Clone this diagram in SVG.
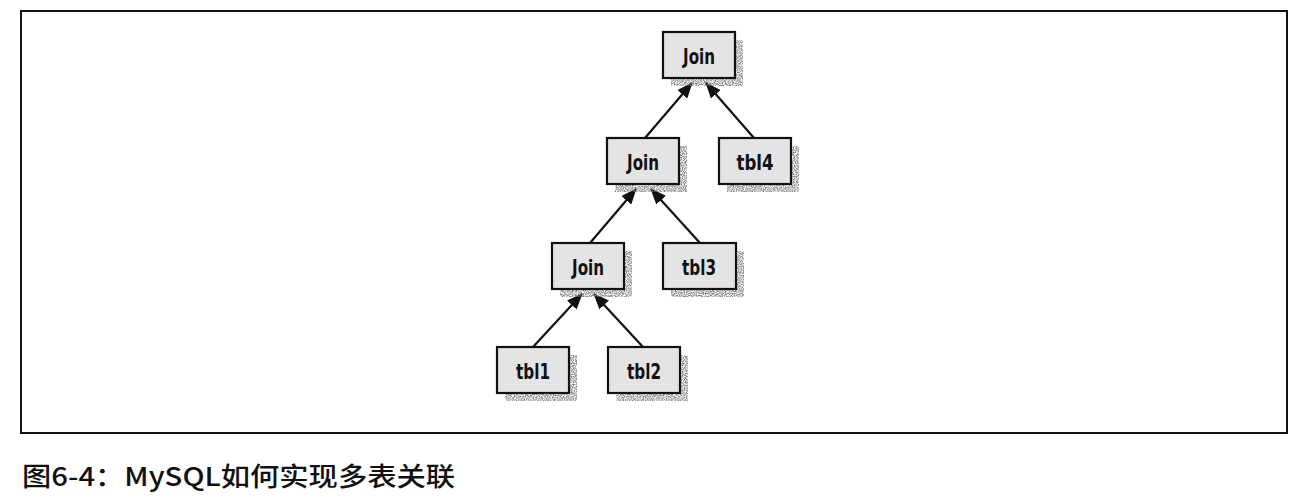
<svg xmlns="http://www.w3.org/2000/svg" width="1304" height="504" viewBox="0 0 1304 504">
  <style>
    .box { fill: #e4e4e4; stroke: #111; stroke-width: 2.2; }
    .shadow { fill: #7a7a7a; filter: url(#grain); }
    .lbl { font-family: "DejaVu Sans", sans-serif; font-weight: bold; font-size: 22px; fill: #111; text-anchor: middle; }
    .edge { stroke: #111; stroke-width: 2.2; fill: none; marker-end: url(#arrow); }
    .caption { font-family: "Noto Sans CJK SC", "Noto Sans", sans-serif; font-weight: 500; font-size: 26px; fill: #111; }
  </style>
  <defs>
    <filter id="grain" x="-5%" y="-5%" width="110%" height="110%">
      <feTurbulence type="fractalNoise" baseFrequency="0.9" numOctaves="1" seed="3" result="noise"/>
      <feColorMatrix in="noise" type="matrix" values="0 0 0 0 0  0 0 0 0 0  0 0 0 0 0  0 0 0 -2.6 1.75" result="mask"/>
      <feComposite in="SourceGraphic" in2="mask" operator="in"/>
    </filter>
    <marker id="arrow" markerUnits="userSpaceOnUse" markerWidth="16" markerHeight="13" refX="15" refY="6.5" orient="auto">
      <path d="M0,0 L16,6.5 L0,13 Z" fill="#111"/>
    </marker>
  </defs>
  <rect x="0" y="0" width="1304" height="504" fill="#fff"/>
  <rect x="21" y="11" width="1266" height="422" fill="none" stroke="#111" stroke-width="2"/>

  <g id="connectors">
    <line class="edge" x1="645" y1="138" x2="692" y2="83"/>
    <line class="edge" x1="754" y1="138" x2="706" y2="83"/>
    <line class="edge" x1="590" y1="243" x2="636" y2="189"/>
    <line class="edge" x1="700" y1="243" x2="651" y2="189"/>
    <line class="edge" x1="533" y1="347" x2="582" y2="294"/>
    <line class="edge" x1="643" y1="347" x2="594" y2="294"/>
  </g>

  <g id="join1">
    <rect class="shadow" x="671" y="40" width="72" height="46"/>
    <rect class="box" x="663" y="32" width="72" height="46"/>
    <text class="lbl" x="699" y="64" textLength="32" lengthAdjust="spacingAndGlyphs">Join</text>
  </g>
  <g id="join2">
    <rect class="shadow" x="615" y="146" width="72" height="46"/>
    <rect class="box" x="607" y="138" width="72" height="46"/>
    <text class="lbl" x="643" y="170" textLength="32" lengthAdjust="spacingAndGlyphs">Join</text>
  </g>
  <g id="tbl4">
    <rect class="shadow" x="727" y="146" width="72" height="46"/>
    <rect class="box" x="719" y="138" width="72" height="46"/>
    <text class="lbl" x="755" y="170" textLength="37" lengthAdjust="spacingAndGlyphs">tbl4</text>
  </g>
  <g id="join3">
    <rect class="shadow" x="560" y="251" width="72" height="46"/>
    <rect class="box" x="552" y="243" width="72" height="46"/>
    <text class="lbl" x="588" y="275" textLength="32" lengthAdjust="spacingAndGlyphs">Join</text>
  </g>
  <g id="tbl3">
    <rect class="shadow" x="671" y="251" width="73" height="46"/>
    <rect class="box" x="663" y="243" width="73" height="46"/>
    <text class="lbl" x="699" y="275" textLength="34" lengthAdjust="spacingAndGlyphs">tbl3</text>
  </g>
  <g id="tbl1">
    <rect class="shadow" x="505" y="355" width="72" height="46"/>
    <rect class="box" x="497" y="347" width="72" height="46"/>
    <text class="lbl" x="533" y="379" textLength="34" lengthAdjust="spacingAndGlyphs">tbl1</text>
  </g>
  <g id="tbl2">
    <rect class="shadow" x="616" y="355" width="72" height="46"/>
    <rect class="box" x="608" y="347" width="72" height="46"/>
    <text class="lbl" x="644" y="379" textLength="34" lengthAdjust="spacingAndGlyphs">tbl2</text>
  </g>

  <text class="caption" x="22" y="486" textLength="433" lengthAdjust="spacingAndGlyphs">图6-4：MySQL如何实现多表关联</text>
</svg>
